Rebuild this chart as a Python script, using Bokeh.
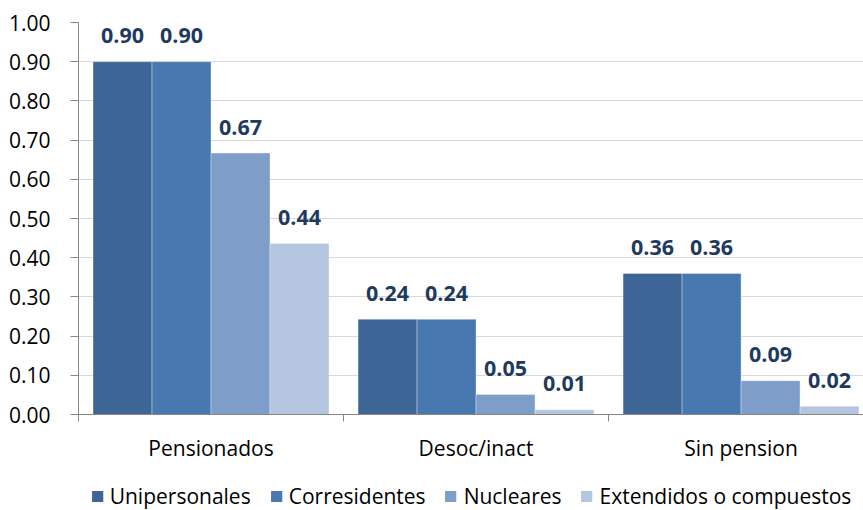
from bokeh.plotting import figure
from bokeh.layouts import column
from bokeh.models import Range1d, FixedTicker, Legend, LegendItem, ColumnDataSource
from bokeh.core.properties import value
from bokeh.embed import file_html
from bokeh.resources import INLINE

categories = ["Pensionados", "Desoc/inact", "Sin pension"]
series = ["Unipersonales", "Corresidentes", "Nucleares", "Extendidos o compuestos"]
unipersonales = [0.90, 0.243, 0.36]
corresidentes = [0.90, 0.243, 0.36]
nucleares = [0.667, 0.051, 0.086]
extendidos = [0.436, 0.012, 0.021]
y_ticks = [0.0, 0.1, 0.2, 0.3, 0.4, 0.5, 0.6, 0.7, 0.8, 0.9, 1.0]

colors = ["#3D6596", "#4878B0", "#7F9DC9", "#B4C5E0"]
FONT = "Open Sans"

p = figure(frame_width=785, frame_height=392, output_backend="svg", toolbar_location=None,
           x_range=Range1d(0, 2.962), y_range=Range1d(0, 1.0),
           min_border_left=78, min_border_right=0, min_border_top=22,
           min_border_bottom=68)
p.outline_line_color = None
p.background_fill_color = "white"

bw = 0.2226
vals = [unipersonales, corresidentes, nucleares, extendidos]
sources = []
for j, (name, v) in enumerate(zip(series, vals)):
    xs = [i + 0.5 + (j - 1.5) * bw for i in range(len(categories))]
    src = ColumnDataSource(dict(x=xs, top=v, lab=[f"{t:.2f}" for t in v]))
    sources.append(src)
    p.vbar(x="x", top="top", width=bw, bottom=0, source=src,
           fill_color=colors[j], line_color="#FFFFFF", line_alpha=0.35, line_width=1)
    p.text(x="x", y="top", text="lab", source=src, y_offset=-26,
           text_align="center", text_baseline="middle",
           text_font=value(FONT), text_font_style="bold", text_font_size="21.5px",
           text_color="#1F3A60")

# axes
p.yaxis.ticker = FixedTicker(ticks=y_ticks)
p.yaxis.major_label_overrides = {t: f"{t:.2f}" for t in y_ticks}
p.yaxis.major_label_text_font = FONT
p.yaxis.major_label_text_font_size = "21px"
p.yaxis.major_label_text_color = "#000000"
p.yaxis.axis_line_color = "#868686"
p.yaxis.major_tick_line_color = "#868686"
p.yaxis.major_tick_out = 8
p.yaxis.major_tick_in = 0
p.yaxis.minor_tick_line_color = None
p.yaxis.major_label_standoff = 20

p.xaxis.ticker = FixedTicker(ticks=[0.5, 1.5, 2.5], minor_ticks=[0, 1, 2, 3])
p.xaxis.major_label_overrides = {i + 0.5: c for i, c in enumerate(categories)}
p.xaxis.major_label_text_font = FONT
p.xaxis.major_label_text_font_size = "21px"
p.xaxis.major_label_text_color = "#000000"
p.xaxis.axis_line_color = "#868686"
p.xaxis.major_tick_line_color = None
p.xaxis.minor_tick_line_color = "#868686"
p.xaxis.minor_tick_out = 7
p.xaxis.minor_tick_in = 0
p.xaxis.major_label_standoff = 12

p.xgrid.grid_line_color = None
p.ygrid.grid_line_color = "#D9D9D9"
p.ygrid.ticker = FixedTicker(ticks=y_ticks)

# legend strip
lg = figure(width=863, height=28, output_backend="svg", toolbar_location=None,
            x_range=Range1d(0, 1), y_range=Range1d(0, 1),
            min_border=0, x_axis_type=None, y_axis_type=None)
lg.outline_line_color = None
lg.xgrid.grid_line_color = None
lg.ygrid.grid_line_color = None
items = []
for j, name in enumerate(series):
    r = lg.vbar(x="x", top="top", width=bw, source=sources[j],
                fill_color=colors[j], line_color=None, visible=False)
    items.append(LegendItem(label=name, renderers=[r]))
legend = Legend(items=items, orientation="horizontal", location="center",
                label_text_font=FONT, label_text_font_size="21px",
                label_text_color="#000000",
                glyph_width=14, glyph_height=14, spacing=18, label_standoff=6,
                border_line_color=None, background_fill_alpha=0, margin=0, padding=0)
lg.add_layout(legend)

layout = column(p, lg, spacing=0)
open("out.html", "w").write(file_html(layout, INLINE))
